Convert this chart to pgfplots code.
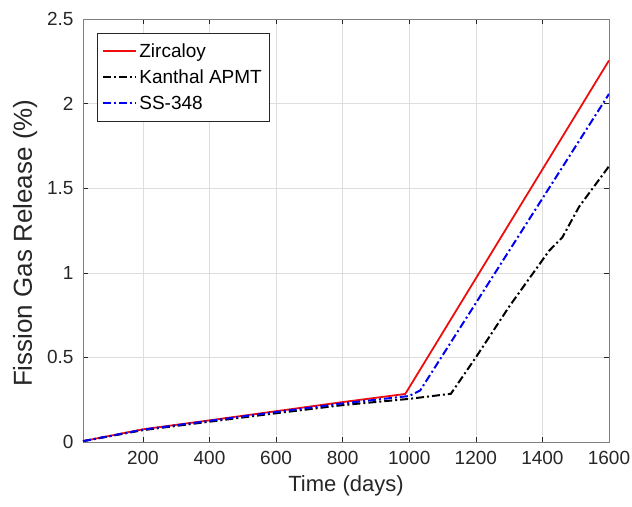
\documentclass[border=0pt]{standalone}
\usepackage{fontspec}
\setmainfont{Liberation Sans}
\usepackage{pgfplots}
\pgfplotsset{compat=1.18}
\definecolor{axgray}{rgb}{0.15,0.15,0.15}
\definecolor{mred}{rgb}{0.93,0.05,0.05}
\definecolor{mblue}{rgb}{0.0,0.0,0.95}
\begin{document}
\begin{tikzpicture}
\path[use as bounding box] (-83bp,-65bp) rectangle (549bp,442bp);
\begin{axis}[
  at={(0,0)}, anchor=south west,
  scale only axis, width=526bp, height=423bp,
  xmin=20, xmax=1600, ymin=0, ymax=2.5,
  xtick={200,400,...,1600},
  ytick={0,0.5,1,1.5,2,2.5},
  yticklabels={0,0.5,1,1.5,2,2.5},
  /pgf/number format/assume math mode=true,
  scaled x ticks=false,
  xticklabel style={/pgf/number format/1000 sep={}},
  tick align=inside, tick pos=both,
  major tick length=5bp,
  grid=major,
  major grid style={color=black!13, line width=0.5pt},
  axis line style={color=black!50, line width=0.9pt},
  tick style={color=axgray, line width=0.6pt},
  ticklabel style={font=\fontsize{19bp}{22bp}\selectfont, text=axgray},
  xticklabel style={yshift=-6bp},
  yticklabel style={xshift=-6bp},
  xlabel={Time (days)},
  ylabel={Fission Gas Release (\%)},
  xlabel style={font=\fontsize{22bp}{26bp}\selectfont, text=axgray, at={(axis description cs:0.5,0)}, anchor=north, yshift=-30bp},
  ylabel style={font=\fontsize{26bp}{30bp}\selectfont, text=axgray, at={(axis description cs:-0.11,0.47)}, anchor=center},
  legend style={at={(axis description cs:0.027,0.966)}, anchor=north west, draw=axgray,
    font=\fontsize{19bp}{22bp}\selectfont, row sep=7bp, inner xsep=5bp, inner ysep=8bp},
  legend cell align=left,
  legend image code/.code={\draw[mark repeat=2,mark phase=2,#1] plot coordinates {(0bp,0bp) (16bp,0bp) (33bp,0bp)};},
]
\addplot[color=mred, line width=1.8pt] coordinates {
(20,0.005) (200,0.075) (400,0.128) (600,0.182) (800,0.236) (988,0.284) (1600,2.255)};
\addlegendentry{Zircaloy}
\addplot[color=black, line width=2pt, dash pattern=on 8bp off 3bp on 2bp off 3bp] coordinates {
(20,0.005) (200,0.07) (400,0.12) (600,0.17) (800,0.218) (1000,0.255) (1125,0.285) (1200,0.50) (1300,0.80) (1420,1.13) (1460,1.21) (1510,1.39) (1600,1.63)};
\addlegendentry{Kanthal APMT}
\addplot[color=mblue, line width=2pt, dash pattern=on 8bp off 3bp on 2bp off 3bp] coordinates {
(20,0.005) (200,0.073) (400,0.125) (600,0.177) (800,0.228) (1000,0.272) (1033,0.305) (1600,2.057)};
\addlegendentry{SS-348}
\end{axis}
\end{tikzpicture}
\end{document}
